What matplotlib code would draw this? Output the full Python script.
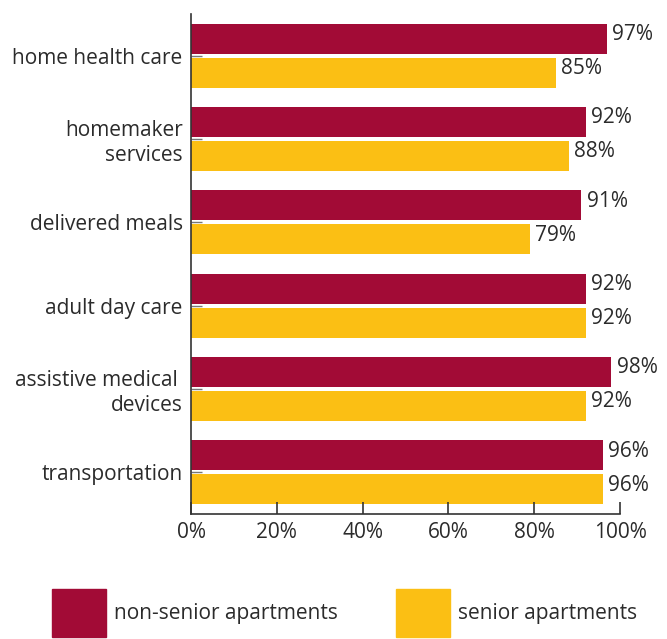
import matplotlib.pyplot as plt
import numpy as np
from matplotlib.patches import Patch

plt.rcParams['font.family'] = ['Open Sans', 'DejaVu Sans']

categories = ['home health care', 'homemaker\nservices', 'delivered meals',
              'adult day care', 'assistive medical \ndevices', 'transportation']
non_senior = [97, 92, 91, 92, 98, 96]
senior = [85, 88, 79, 92, 92, 96]
xticks = [0, 20, 40, 60, 80, 100]

red = '#A20B36'
yellow = '#FBBF14'
txt = '#2b2b2b'
fs = 15

fig = plt.figure(figsize=(6.67, 6.39), dpi=100)
ax = fig.add_axes([191 / 667, 1 - 514 / 639, 429 / 667, 500 / 639])

y = np.arange(len(categories))
h = 0.36
off = 0.205
ax.barh(y - off, non_senior, height=h, color=red)
ax.barh(y + off, senior, height=h, color=yellow)

for i in range(len(categories)):
    ax.text(non_senior[i] + 1.2, y[i] - off - 0.05, '{}%'.format(non_senior[i]),
            va='center', ha='left', fontsize=fs, color=txt)
    ax.text(senior[i] + 1.2, y[i] + off - 0.05, '{}%'.format(senior[i]),
            va='center', ha='left', fontsize=fs, color=txt)

ax.set_ylim(len(categories) - 0.5, -0.5)
ax.set_xlim(0, 100)
ax.set_yticks(y)
ax.set_yticklabels(categories, fontsize=fs, color=txt, linespacing=1.2)
ax.set_xticks(xticks)
ax.set_xticklabels(['{}%'.format(v) for v in xticks], fontsize=fs, color=txt)

for s in ['top', 'right']:
    ax.spines[s].set_visible(False)
for s in ['left', 'bottom']:
    ax.spines[s].set_color('#333333')
    ax.spines[s].set_linewidth(1.2)
ax.tick_params(axis='x', direction='in', length=9, width=1.2, color='#333333', pad=6)
ax.tick_params(axis='y', direction='in', length=8, width=1.0, color='#777777', pad=6)

handles = [Patch(color=red, label='non-senior apartments'),
           Patch(color=yellow, label='senior apartments')]
fig.legend(handles=handles, loc='lower left', bbox_to_anchor=(52 / 667, 2 / 639),
           ncol=2, frameon=False, fontsize=fs, handlelength=2.57, handleheight=3.2,
           handletextpad=0.4, columnspacing=2.8, borderpad=0, borderaxespad=0,
           labelcolor=txt)

fig.savefig('out.png', dpi=100)
